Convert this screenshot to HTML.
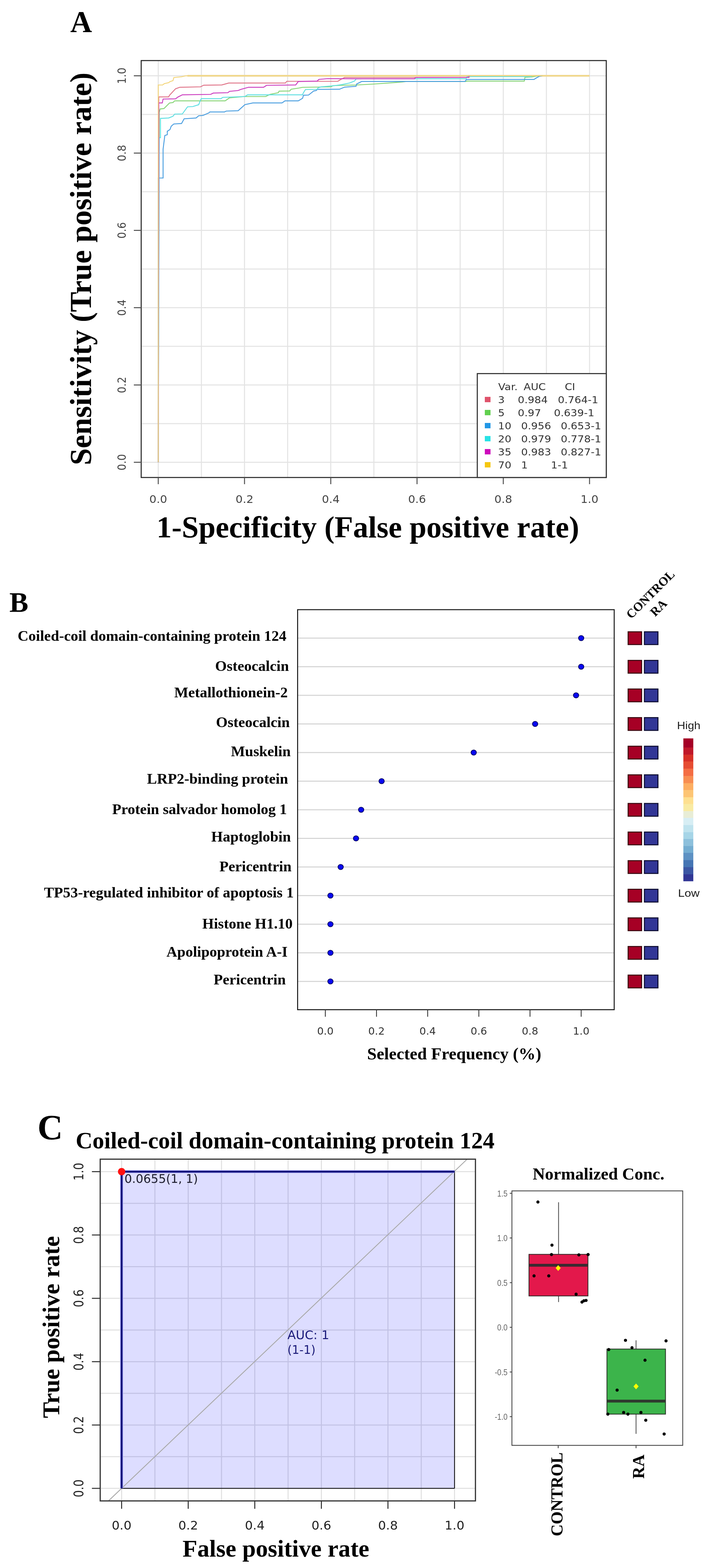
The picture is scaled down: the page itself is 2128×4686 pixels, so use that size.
<!DOCTYPE html>
<html><head><meta charset="utf-8"><title>Figure</title>
<style>html,body{margin:0;padding:0;background:#fff}svg{display:block}</style></head>
<body><svg width="2128" height="4686" viewBox="0 0 2128 4686">
<rect x="0" y="0" width="2128" height="4686" fill="#fff"/>
<text x="210" y="96" font-family="'Liberation Serif', 'Times New Roman', serif" font-size="90" font-weight="bold" fill="#000" text-anchor="start">A</text>
<line x1="473" y1="181" x2="473" y2="1427" stroke="#e3e3e3" stroke-width="3"/>
<line x1="422" y1="1381.5" x2="1812" y2="1381.5" stroke="#e3e3e3" stroke-width="3"/>
<line x1="601.9" y1="181" x2="601.9" y2="1427" stroke="#e3e3e3" stroke-width="3"/>
<line x1="422" y1="1266" x2="1812" y2="1266" stroke="#e3e3e3" stroke-width="3"/>
<line x1="730.8" y1="181" x2="730.8" y2="1427" stroke="#e3e3e3" stroke-width="3"/>
<line x1="422" y1="1150.5" x2="1812" y2="1150.5" stroke="#e3e3e3" stroke-width="3"/>
<line x1="859.7" y1="181" x2="859.7" y2="1427" stroke="#e3e3e3" stroke-width="3"/>
<line x1="422" y1="1035" x2="1812" y2="1035" stroke="#e3e3e3" stroke-width="3"/>
<line x1="988.6" y1="181" x2="988.6" y2="1427" stroke="#e3e3e3" stroke-width="3"/>
<line x1="422" y1="919.5" x2="1812" y2="919.5" stroke="#e3e3e3" stroke-width="3"/>
<line x1="1117.5" y1="181" x2="1117.5" y2="1427" stroke="#e3e3e3" stroke-width="3"/>
<line x1="422" y1="804" x2="1812" y2="804" stroke="#e3e3e3" stroke-width="3"/>
<line x1="1246.4" y1="181" x2="1246.4" y2="1427" stroke="#e3e3e3" stroke-width="3"/>
<line x1="422" y1="688.5" x2="1812" y2="688.5" stroke="#e3e3e3" stroke-width="3"/>
<line x1="1375.3" y1="181" x2="1375.3" y2="1427" stroke="#e3e3e3" stroke-width="3"/>
<line x1="422" y1="573" x2="1812" y2="573" stroke="#e3e3e3" stroke-width="3"/>
<line x1="1504.2" y1="181" x2="1504.2" y2="1427" stroke="#e3e3e3" stroke-width="3"/>
<line x1="422" y1="457.5" x2="1812" y2="457.5" stroke="#e3e3e3" stroke-width="3"/>
<line x1="1633.1" y1="181" x2="1633.1" y2="1427" stroke="#e3e3e3" stroke-width="3"/>
<line x1="422" y1="342" x2="1812" y2="342" stroke="#e3e3e3" stroke-width="3"/>
<line x1="1762" y1="181" x2="1762" y2="1427" stroke="#e3e3e3" stroke-width="3"/>
<line x1="422" y1="226.5" x2="1812" y2="226.5" stroke="#e3e3e3" stroke-width="3"/>
<line x1="560" y1="226.5" x2="1762" y2="226.5" stroke="#ecdcab" stroke-width="5.5"/>
<polyline points="473,1381.5 474.6,289.7 504,289.7 506.7,284.6 524.6,265.4 537.4,260.8 599,259.5 609,254.6 663,253.8 683.6,248.2 853,248.2 857,243 1009.5,243 1021,236 1030,231.5 1402,231.5 1404,226.5 1400,226.5" fill="none" stroke="#e07488" stroke-width="2.7" stroke-linejoin="miter"/>
<polyline points="473,1381.5 476,336 478.5,325.6 490,324.4 506.7,307.7 517,306.4 522,301.3 673,301.3 686,292.3 730,288.5 794,288.5 807,282 832,277 834,272.3 866,271.8 870,266.7 894,263 904,261 990,259.5 995,256 1020,255 1066,254 1120,251 1185,246.4 1203,245 1215,243.4 1393,243.4 1396,242.4 1567,242.4 1569,231 1590,230 1600,228 1610,226.5" fill="none" stroke="#86d477" stroke-width="2.7" stroke-linejoin="miter"/>
<polyline points="473,1381.5 473,532 487.4,532 487.4,446 492.6,405 500,402.6 500,392.3 508,387.2 511.8,377 519.5,370.5 542.6,369.2 550.3,355 586,352.6 593.8,346 606.7,344.9 624.6,337.2 627,334.6 670.8,334.6 676,332 711.8,330.8 732,312.8 755.6,307.7 842.8,307.7 851.8,301.3 891.5,301.3 904.4,293.6 907,284.6 922.3,284 937.7,271.8 945.4,270.5 948,267.2 1014.6,266.7 1030,260.3 1064,258 1066,251 1078,245 1081,243.4 1390,243.4 1394,237.4 1596,237.4 1602,233.5 1611,228.5 1621.6,226.5" fill="none" stroke="#4a9ee0" stroke-width="2.7" stroke-linejoin="miter"/>
<polyline points="473,1381.5 476,411.5 479.7,411.5 479.7,353.8 504,352.6 517,347.4 522,341 545,340.5 560.5,319.2 576,318.5 594,312.8 597.7,302.6 601.5,294.9 660.5,294.9 665.6,291 732,288.5 740,283.3 904,283.3 907,277 913,267.5 948,267 950,263 960,259.5 1000,256 1020,253 1045,248 1060,242 1064,236 1075,235.3 1393,235.3 1396,229 1587,229 1590,226.5" fill="none" stroke="#5fdfe2" stroke-width="2.7" stroke-linejoin="miter"/>
<polyline points="473,1381.5 474.6,307.7 485,307.7 487.4,296 524.6,295.4 532.3,289.7 545,283.3 629.7,282 637.4,278.2 681,277 686,273 711.8,270.5 719.5,267.2 742.8,260.8 787.7,260.8 796.7,255 883.8,253.8 891.5,243.6 948,242.3 953,237.2 968.5,236 978.7,235 1066,235.3 1239,235.3 1242,231.5 1400,231 1402,227" fill="none" stroke="#cc3fc0" stroke-width="2.7" stroke-linejoin="miter"/>
<polyline points="473,1381.5 473,254 486,254 491,250 504,247 508,244 517,241 519.5,232 527,231 542.5,229.5 553,227 558,226.5 1762,226.5" fill="none" stroke="#f3d57a" stroke-width="2.7" stroke-linejoin="miter"/>
<rect x="422" y="181" width="1390" height="1246" fill="none" stroke="#222" stroke-width="3"/>
<line x1="400" y1="1381.5" x2="422" y2="1381.5" stroke="#555" stroke-width="3"/>
<line x1="473" y1="1427" x2="473" y2="1447" stroke="#555" stroke-width="3"/>
<text x="0" y="0" font-family="'DejaVu Sans', 'Liberation Sans', sans-serif" font-size="32" font-weight="normal" fill="#444" text-anchor="middle" transform="translate(473 1503) scale(1.05 1)">0.0</text>
<text x="0" y="0" font-family="'DejaVu Sans', 'Liberation Sans', sans-serif" font-size="32" font-weight="normal" fill="#444" text-anchor="middle" transform="translate(376 1381.5) rotate(-90) scale(0.96 1.08)">0.0</text>
<line x1="400" y1="1150.5" x2="422" y2="1150.5" stroke="#555" stroke-width="3"/>
<line x1="730.8" y1="1427" x2="730.8" y2="1447" stroke="#555" stroke-width="3"/>
<text x="0" y="0" font-family="'DejaVu Sans', 'Liberation Sans', sans-serif" font-size="32" font-weight="normal" fill="#444" text-anchor="middle" transform="translate(730.8 1503) scale(1.05 1)">0.2</text>
<text x="0" y="0" font-family="'DejaVu Sans', 'Liberation Sans', sans-serif" font-size="32" font-weight="normal" fill="#444" text-anchor="middle" transform="translate(376 1150.5) rotate(-90) scale(0.96 1.08)">0.2</text>
<line x1="400" y1="919.5" x2="422" y2="919.5" stroke="#555" stroke-width="3"/>
<line x1="988.6" y1="1427" x2="988.6" y2="1447" stroke="#555" stroke-width="3"/>
<text x="0" y="0" font-family="'DejaVu Sans', 'Liberation Sans', sans-serif" font-size="32" font-weight="normal" fill="#444" text-anchor="middle" transform="translate(988.6 1503) scale(1.05 1)">0.4</text>
<text x="0" y="0" font-family="'DejaVu Sans', 'Liberation Sans', sans-serif" font-size="32" font-weight="normal" fill="#444" text-anchor="middle" transform="translate(376 919.5) rotate(-90) scale(0.96 1.08)">0.4</text>
<line x1="400" y1="688.5" x2="422" y2="688.5" stroke="#555" stroke-width="3"/>
<line x1="1246.4" y1="1427" x2="1246.4" y2="1447" stroke="#555" stroke-width="3"/>
<text x="0" y="0" font-family="'DejaVu Sans', 'Liberation Sans', sans-serif" font-size="32" font-weight="normal" fill="#444" text-anchor="middle" transform="translate(1246.4 1503) scale(1.05 1)">0.6</text>
<text x="0" y="0" font-family="'DejaVu Sans', 'Liberation Sans', sans-serif" font-size="32" font-weight="normal" fill="#444" text-anchor="middle" transform="translate(376 688.5) rotate(-90) scale(0.96 1.08)">0.6</text>
<line x1="400" y1="457.5" x2="422" y2="457.5" stroke="#555" stroke-width="3"/>
<line x1="1504.2" y1="1427" x2="1504.2" y2="1447" stroke="#555" stroke-width="3"/>
<text x="0" y="0" font-family="'DejaVu Sans', 'Liberation Sans', sans-serif" font-size="32" font-weight="normal" fill="#444" text-anchor="middle" transform="translate(1504.2 1503) scale(1.05 1)">0.8</text>
<text x="0" y="0" font-family="'DejaVu Sans', 'Liberation Sans', sans-serif" font-size="32" font-weight="normal" fill="#444" text-anchor="middle" transform="translate(376 457.5) rotate(-90) scale(0.96 1.08)">0.8</text>
<line x1="400" y1="226.5" x2="422" y2="226.5" stroke="#555" stroke-width="3"/>
<line x1="1762" y1="1427" x2="1762" y2="1447" stroke="#555" stroke-width="3"/>
<text x="0" y="0" font-family="'DejaVu Sans', 'Liberation Sans', sans-serif" font-size="32" font-weight="normal" fill="#444" text-anchor="middle" transform="translate(1762 1503) scale(1.05 1)">1.0</text>
<text x="0" y="0" font-family="'DejaVu Sans', 'Liberation Sans', sans-serif" font-size="32" font-weight="normal" fill="#444" text-anchor="middle" transform="translate(376 226.5) rotate(-90) scale(0.96 1.08)">1.0</text>
<rect x="1426.5" y="1116.5" width="385.5" height="310.5" fill="#fff" stroke="#333" stroke-width="3.2"/>
<text x="0" y="0" font-family="'DejaVu Sans', 'Liberation Sans', sans-serif" font-size="29" font-weight="normal" fill="#333" text-anchor="start" transform="translate(1489 1166) scale(1.08 1)">Var.</text>
<text x="0" y="0" font-family="'DejaVu Sans', 'Liberation Sans', sans-serif" font-size="29" font-weight="normal" fill="#333" text-anchor="start" transform="translate(1565 1166) scale(1.08 1)">AUC</text>
<text x="0" y="0" font-family="'DejaVu Sans', 'Liberation Sans', sans-serif" font-size="29" font-weight="normal" fill="#333" text-anchor="start" transform="translate(1688 1166) scale(1.08 1)">CI</text>
<rect x="1449" y="1186" width="17" height="16" fill="#df536b" stroke="none" stroke-width="0"/>
<text x="0" y="0" font-family="'DejaVu Sans', 'Liberation Sans', sans-serif" font-size="29" font-weight="normal" fill="#333" text-anchor="start" transform="translate(1488.5 1205) scale(1.08 1)">3</text>
<text x="0" y="0" font-family="'DejaVu Sans', 'Liberation Sans', sans-serif" font-size="29" font-weight="normal" fill="#333" text-anchor="start" transform="translate(1547.5 1205) scale(1.08 1)">0.984</text>
<text x="0" y="0" font-family="'DejaVu Sans', 'Liberation Sans', sans-serif" font-size="29" font-weight="normal" fill="#333" text-anchor="start" transform="translate(1667.2 1205) scale(1.08 1)">0.764-1</text>
<rect x="1449" y="1225" width="17" height="16" fill="#61d04f" stroke="none" stroke-width="0"/>
<text x="0" y="0" font-family="'DejaVu Sans', 'Liberation Sans', sans-serif" font-size="29" font-weight="normal" fill="#333" text-anchor="start" transform="translate(1488.5 1244) scale(1.08 1)">5</text>
<text x="0" y="0" font-family="'DejaVu Sans', 'Liberation Sans', sans-serif" font-size="29" font-weight="normal" fill="#333" text-anchor="start" transform="translate(1547.5 1244) scale(1.08 1)">0.97</text>
<text x="0" y="0" font-family="'DejaVu Sans', 'Liberation Sans', sans-serif" font-size="29" font-weight="normal" fill="#333" text-anchor="start" transform="translate(1655.5 1244) scale(1.08 1)">0.639-1</text>
<rect x="1449" y="1264" width="17" height="16" fill="#2297e6" stroke="none" stroke-width="0"/>
<text x="0" y="0" font-family="'DejaVu Sans', 'Liberation Sans', sans-serif" font-size="29" font-weight="normal" fill="#333" text-anchor="start" transform="translate(1488.5 1283) scale(1.08 1)">10</text>
<text x="0" y="0" font-family="'DejaVu Sans', 'Liberation Sans', sans-serif" font-size="29" font-weight="normal" fill="#333" text-anchor="start" transform="translate(1557.5 1283) scale(1.08 1)">0.956</text>
<text x="0" y="0" font-family="'DejaVu Sans', 'Liberation Sans', sans-serif" font-size="29" font-weight="normal" fill="#333" text-anchor="start" transform="translate(1676 1283) scale(1.08 1)">0.653-1</text>
<rect x="1449" y="1303" width="17" height="16" fill="#28e2e5" stroke="none" stroke-width="0"/>
<text x="0" y="0" font-family="'DejaVu Sans', 'Liberation Sans', sans-serif" font-size="29" font-weight="normal" fill="#333" text-anchor="start" transform="translate(1488.5 1322) scale(1.08 1)">20</text>
<text x="0" y="0" font-family="'DejaVu Sans', 'Liberation Sans', sans-serif" font-size="29" font-weight="normal" fill="#333" text-anchor="start" transform="translate(1557.5 1322) scale(1.08 1)">0.979</text>
<text x="0" y="0" font-family="'DejaVu Sans', 'Liberation Sans', sans-serif" font-size="29" font-weight="normal" fill="#333" text-anchor="start" transform="translate(1676 1322) scale(1.08 1)">0.778-1</text>
<rect x="1449" y="1342" width="17" height="16" fill="#cd0bbc" stroke="none" stroke-width="0"/>
<text x="0" y="0" font-family="'DejaVu Sans', 'Liberation Sans', sans-serif" font-size="29" font-weight="normal" fill="#333" text-anchor="start" transform="translate(1488.5 1361) scale(1.08 1)">35</text>
<text x="0" y="0" font-family="'DejaVu Sans', 'Liberation Sans', sans-serif" font-size="29" font-weight="normal" fill="#333" text-anchor="start" transform="translate(1557.5 1361) scale(1.08 1)">0.983</text>
<text x="0" y="0" font-family="'DejaVu Sans', 'Liberation Sans', sans-serif" font-size="29" font-weight="normal" fill="#333" text-anchor="start" transform="translate(1676 1361) scale(1.08 1)">0.827-1</text>
<rect x="1449" y="1381" width="17" height="16" fill="#f5c710" stroke="none" stroke-width="0"/>
<text x="0" y="0" font-family="'DejaVu Sans', 'Liberation Sans', sans-serif" font-size="29" font-weight="normal" fill="#333" text-anchor="start" transform="translate(1488.5 1400) scale(1.08 1)">70</text>
<text x="0" y="0" font-family="'DejaVu Sans', 'Liberation Sans', sans-serif" font-size="29" font-weight="normal" fill="#333" text-anchor="start" transform="translate(1557.5 1400) scale(1.08 1)">1</text>
<text x="0" y="0" font-family="'DejaVu Sans', 'Liberation Sans', sans-serif" font-size="29" font-weight="normal" fill="#333" text-anchor="start" transform="translate(1646.5 1400) scale(1.08 1)">1-1</text>
<text x="1099.3" y="1605.5" font-family="'Liberation Serif', 'Times New Roman', serif" font-size="90.8" font-weight="bold" fill="#000" text-anchor="middle">1-Specificity (False positive rate)</text>
<text x="272.3" y="803.5" font-family="'Liberation Serif', 'Times New Roman', serif" font-size="91" font-weight="bold" fill="#000" text-anchor="middle" transform="rotate(-90 272.3 803.5)">Sensitivity (True positive rate)</text>
<text x="28" y="1829" font-family="'Liberation Serif', 'Times New Roman', serif" font-size="85" font-weight="bold" fill="#000" text-anchor="start">B</text>
<line x1="889" y1="1907" x2="1835.2" y2="1907" stroke="#d3d3d3" stroke-width="3.2"/>
<line x1="889" y1="1992.5" x2="1835.2" y2="1992.5" stroke="#d3d3d3" stroke-width="3.2"/>
<line x1="889" y1="2078" x2="1835.2" y2="2078" stroke="#d3d3d3" stroke-width="3.2"/>
<line x1="889" y1="2163.5" x2="1835.2" y2="2163.5" stroke="#d3d3d3" stroke-width="3.2"/>
<line x1="889" y1="2249" x2="1835.2" y2="2249" stroke="#d3d3d3" stroke-width="3.2"/>
<line x1="889" y1="2334.5" x2="1835.2" y2="2334.5" stroke="#d3d3d3" stroke-width="3.2"/>
<line x1="889" y1="2420" x2="1835.2" y2="2420" stroke="#d3d3d3" stroke-width="3.2"/>
<line x1="889" y1="2505.5" x2="1835.2" y2="2505.5" stroke="#d3d3d3" stroke-width="3.2"/>
<line x1="889" y1="2591" x2="1835.2" y2="2591" stroke="#d3d3d3" stroke-width="3.2"/>
<line x1="889" y1="2676.5" x2="1835.2" y2="2676.5" stroke="#d3d3d3" stroke-width="3.2"/>
<line x1="889" y1="2762" x2="1835.2" y2="2762" stroke="#d3d3d3" stroke-width="3.2"/>
<line x1="889" y1="2847.5" x2="1835.2" y2="2847.5" stroke="#d3d3d3" stroke-width="3.2"/>
<line x1="889" y1="2933" x2="1835.2" y2="2933" stroke="#d3d3d3" stroke-width="3.2"/>
<ellipse cx="1737" cy="1907" rx="8" ry="7.8" fill="#0808f0" stroke="#000060" stroke-width="2"/>
<text x="856" y="1915" font-family="'Liberation Serif', 'Times New Roman', serif" font-size="44.6" font-weight="bold" fill="#000" text-anchor="end">Coiled-coil domain-containing protein 124</text>
<rect x="1877.3" y="1888.1" width="40.3" height="38.2" fill="#a60025" stroke="#3a0810" stroke-width="3"/>
<rect x="1926" y="1888.1" width="40.5" height="38.2" fill="#323696" stroke="#0c0c30" stroke-width="3"/>
<ellipse cx="1737" cy="1992.5" rx="8" ry="7.8" fill="#0808f0" stroke="#000060" stroke-width="2"/>
<text x="863.5" y="2004.6" font-family="'Liberation Serif', 'Times New Roman', serif" font-size="44.6" font-weight="bold" fill="#000" text-anchor="end">Osteocalcin</text>
<rect x="1877.3" y="1973.6" width="40.3" height="38.2" fill="#a60025" stroke="#3a0810" stroke-width="3"/>
<rect x="1926" y="1973.6" width="40.5" height="38.2" fill="#323696" stroke="#0c0c30" stroke-width="3"/>
<ellipse cx="1721.71" cy="2078" rx="8" ry="7.8" fill="#0808f0" stroke="#000060" stroke-width="2"/>
<text x="860" y="2084" font-family="'Liberation Serif', 'Times New Roman', serif" font-size="44.6" font-weight="bold" fill="#000" text-anchor="end">Metallothionein-2</text>
<rect x="1877.3" y="2059.1" width="40.3" height="38.2" fill="#a60025" stroke="#3a0810" stroke-width="3"/>
<rect x="1926" y="2059.1" width="40.5" height="38.2" fill="#323696" stroke="#0c0c30" stroke-width="3"/>
<ellipse cx="1599.35" cy="2163.5" rx="8" ry="7.8" fill="#0808f0" stroke="#000060" stroke-width="2"/>
<text x="866" y="2173" font-family="'Liberation Serif', 'Times New Roman', serif" font-size="44.6" font-weight="bold" fill="#000" text-anchor="end">Osteocalcin</text>
<rect x="1877.3" y="2144.6" width="40.3" height="38.2" fill="#a60025" stroke="#3a0810" stroke-width="3"/>
<rect x="1926" y="2144.6" width="40.5" height="38.2" fill="#323696" stroke="#0c0c30" stroke-width="3"/>
<ellipse cx="1415.83" cy="2249" rx="8" ry="7.8" fill="#0808f0" stroke="#000060" stroke-width="2"/>
<text x="868.7" y="2259.5" font-family="'Liberation Serif', 'Times New Roman', serif" font-size="44.6" font-weight="bold" fill="#000" text-anchor="end">Muskelin</text>
<rect x="1877.3" y="2230.1" width="40.3" height="38.2" fill="#a60025" stroke="#3a0810" stroke-width="3"/>
<rect x="1926" y="2230.1" width="40.5" height="38.2" fill="#323696" stroke="#0c0c30" stroke-width="3"/>
<ellipse cx="1140.53" cy="2334.5" rx="8" ry="7.8" fill="#0808f0" stroke="#000060" stroke-width="2"/>
<text x="861" y="2341.5" font-family="'Liberation Serif', 'Times New Roman', serif" font-size="44.6" font-weight="bold" fill="#000" text-anchor="end">LRP2-binding protein</text>
<rect x="1877.3" y="2315.6" width="40.3" height="38.2" fill="#a60025" stroke="#3a0810" stroke-width="3"/>
<rect x="1926" y="2315.6" width="40.5" height="38.2" fill="#323696" stroke="#0c0c30" stroke-width="3"/>
<ellipse cx="1079.36" cy="2420" rx="8" ry="7.8" fill="#0808f0" stroke="#000060" stroke-width="2"/>
<text x="857.6" y="2433.3" font-family="'Liberation Serif', 'Times New Roman', serif" font-size="44.6" font-weight="bold" fill="#000" text-anchor="end">Protein salvador homolog 1</text>
<rect x="1877.3" y="2401.1" width="40.3" height="38.2" fill="#a60025" stroke="#3a0810" stroke-width="3"/>
<rect x="1926" y="2401.1" width="40.5" height="38.2" fill="#323696" stroke="#0c0c30" stroke-width="3"/>
<ellipse cx="1064.06" cy="2505.5" rx="8" ry="7.8" fill="#0808f0" stroke="#000060" stroke-width="2"/>
<text x="869.2" y="2514.7" font-family="'Liberation Serif', 'Times New Roman', serif" font-size="44.6" font-weight="bold" fill="#000" text-anchor="end">Haptoglobin</text>
<rect x="1877.3" y="2486.6" width="40.3" height="38.2" fill="#a60025" stroke="#3a0810" stroke-width="3"/>
<rect x="1926" y="2486.6" width="40.5" height="38.2" fill="#323696" stroke="#0c0c30" stroke-width="3"/>
<ellipse cx="1018.18" cy="2591" rx="8" ry="7.8" fill="#0808f0" stroke="#000060" stroke-width="2"/>
<text x="871.2" y="2604.3" font-family="'Liberation Serif', 'Times New Roman', serif" font-size="44.6" font-weight="bold" fill="#000" text-anchor="end">Pericentrin</text>
<rect x="1877.3" y="2572.1" width="40.3" height="38.2" fill="#a60025" stroke="#3a0810" stroke-width="3"/>
<rect x="1926" y="2572.1" width="40.5" height="38.2" fill="#323696" stroke="#0c0c30" stroke-width="3"/>
<ellipse cx="987.59" cy="2676.5" rx="8" ry="7.8" fill="#0808f0" stroke="#000060" stroke-width="2"/>
<text x="878" y="2682.2" font-family="'Liberation Serif', 'Times New Roman', serif" font-size="44.6" font-weight="bold" fill="#000" text-anchor="end">TP53-regulated inhibitor of apoptosis 1</text>
<rect x="1877.3" y="2657.6" width="40.3" height="38.2" fill="#a60025" stroke="#3a0810" stroke-width="3"/>
<rect x="1926" y="2657.6" width="40.5" height="38.2" fill="#323696" stroke="#0c0c30" stroke-width="3"/>
<ellipse cx="987.59" cy="2762" rx="8" ry="7.8" fill="#0808f0" stroke="#000060" stroke-width="2"/>
<text x="874.6" y="2775.2" font-family="'Liberation Serif', 'Times New Roman', serif" font-size="44.6" font-weight="bold" fill="#000" text-anchor="end">Histone H1.10</text>
<rect x="1877.3" y="2743.1" width="40.3" height="38.2" fill="#a60025" stroke="#3a0810" stroke-width="3"/>
<rect x="1926" y="2743.1" width="40.5" height="38.2" fill="#323696" stroke="#0c0c30" stroke-width="3"/>
<ellipse cx="987.59" cy="2847.5" rx="8" ry="7.8" fill="#0808f0" stroke="#000060" stroke-width="2"/>
<text x="859.6" y="2858.6" font-family="'Liberation Serif', 'Times New Roman', serif" font-size="44.6" font-weight="bold" fill="#000" text-anchor="end">Apolipoprotein A-I</text>
<rect x="1877.3" y="2828.6" width="40.3" height="38.2" fill="#a60025" stroke="#3a0810" stroke-width="3"/>
<rect x="1926" y="2828.6" width="40.5" height="38.2" fill="#323696" stroke="#0c0c30" stroke-width="3"/>
<ellipse cx="987.59" cy="2933" rx="8" ry="7.8" fill="#0808f0" stroke="#000060" stroke-width="2"/>
<text x="854" y="2942" font-family="'Liberation Serif', 'Times New Roman', serif" font-size="44.6" font-weight="bold" fill="#000" text-anchor="end">Pericentrin</text>
<rect x="1877.3" y="2914.1" width="40.3" height="38.2" fill="#a60025" stroke="#3a0810" stroke-width="3"/>
<rect x="1926" y="2914.1" width="40.5" height="38.2" fill="#323696" stroke="#0c0c30" stroke-width="3"/>
<rect x="889.5" y="1822" width="946.2" height="1195.5" fill="none" stroke="#1e1e1e" stroke-width="3"/>
<line x1="972.3" y1="3017.5" x2="972.3" y2="3038.5" stroke="#333" stroke-width="2.5"/>
<text x="972.3" y="3091.5" font-family="'DejaVu Sans', 'Liberation Sans', sans-serif" font-size="31" font-weight="normal" fill="#333" text-anchor="middle">0.0</text>
<line x1="1125.24" y1="3017.5" x2="1125.24" y2="3038.5" stroke="#333" stroke-width="2.5"/>
<text x="1125.24" y="3091.5" font-family="'DejaVu Sans', 'Liberation Sans', sans-serif" font-size="31" font-weight="normal" fill="#333" text-anchor="middle">0.2</text>
<line x1="1278.18" y1="3017.5" x2="1278.18" y2="3038.5" stroke="#333" stroke-width="2.5"/>
<text x="1278.18" y="3091.5" font-family="'DejaVu Sans', 'Liberation Sans', sans-serif" font-size="31" font-weight="normal" fill="#333" text-anchor="middle">0.4</text>
<line x1="1431.12" y1="3017.5" x2="1431.12" y2="3038.5" stroke="#333" stroke-width="2.5"/>
<text x="1431.12" y="3091.5" font-family="'DejaVu Sans', 'Liberation Sans', sans-serif" font-size="31" font-weight="normal" fill="#333" text-anchor="middle">0.6</text>
<line x1="1584.06" y1="3017.5" x2="1584.06" y2="3038.5" stroke="#333" stroke-width="2.5"/>
<text x="1584.06" y="3091.5" font-family="'DejaVu Sans', 'Liberation Sans', sans-serif" font-size="31" font-weight="normal" fill="#333" text-anchor="middle">0.8</text>
<line x1="1737" y1="3017.5" x2="1737" y2="3038.5" stroke="#333" stroke-width="2.5"/>
<text x="1737" y="3091.5" font-family="'DejaVu Sans', 'Liberation Sans', sans-serif" font-size="31" font-weight="normal" fill="#333" text-anchor="middle">1.0</text>
<text x="1357.5" y="3165.5" font-family="'Liberation Serif', 'Times New Roman', serif" font-size="51" font-weight="bold" fill="#000" text-anchor="middle">Selected Frequency (%)</text>
<text x="1886.5" y="1851" font-family="'Liberation Serif', 'Times New Roman', serif" font-size="37" font-weight="bold" fill="#000" text-anchor="start" transform="rotate(-45 1886.5 1851)">CONTROL</text>
<text x="1958" y="1844" font-family="'Liberation Serif', 'Times New Roman', serif" font-size="37" font-weight="bold" fill="#000" text-anchor="start" transform="rotate(-45 1958 1844)">RA</text>
<rect x="2042.4" y="2206.72" width="29.7" height="27.82" fill="#a50026" stroke="none" stroke-width="0"/>
<rect x="2042.4" y="2234.04" width="29.7" height="21.88" fill="#c0182a" stroke="none" stroke-width="0"/>
<rect x="2042.4" y="2255.42" width="29.7" height="20.69" fill="#d73027" stroke="none" stroke-width="0"/>
<rect x="2042.4" y="2275.62" width="29.7" height="21.88" fill="#e64c32" stroke="none" stroke-width="0"/>
<rect x="2042.4" y="2297" width="29.7" height="22.6" fill="#f46d43" stroke="none" stroke-width="0"/>
<rect x="2042.4" y="2319.1" width="29.7" height="21.88" fill="#f88d51" stroke="none" stroke-width="0"/>
<rect x="2042.4" y="2340.48" width="29.7" height="21.17" fill="#fdae61" stroke="none" stroke-width="0"/>
<rect x="2042.4" y="2361.15" width="29.7" height="21.88" fill="#fdc574" stroke="none" stroke-width="0"/>
<rect x="2042.4" y="2382.53" width="29.7" height="20.69" fill="#fee090" stroke="none" stroke-width="0"/>
<rect x="2042.4" y="2402.73" width="29.7" height="21.88" fill="#f9eba3" stroke="none" stroke-width="0"/>
<rect x="2042.4" y="2424.11" width="29.7" height="20.69" fill="#e8edd6" stroke="none" stroke-width="0"/>
<rect x="2042.4" y="2444.31" width="29.7" height="21.88" fill="#d7eef4" stroke="none" stroke-width="0"/>
<rect x="2042.4" y="2465.69" width="29.7" height="21.88" fill="#bfe3ee" stroke="none" stroke-width="0"/>
<rect x="2042.4" y="2487.07" width="29.7" height="20.69" fill="#a6d5e7" stroke="none" stroke-width="0"/>
<rect x="2042.4" y="2507.27" width="29.7" height="21.41" fill="#8dc0dc" stroke="none" stroke-width="0"/>
<rect x="2042.4" y="2528.17" width="29.7" height="21.17" fill="#74add1" stroke="none" stroke-width="0"/>
<rect x="2042.4" y="2548.84" width="29.7" height="21.88" fill="#5d91c3" stroke="none" stroke-width="0"/>
<rect x="2042.4" y="2570.23" width="29.7" height="21.88" fill="#4575b4" stroke="none" stroke-width="0"/>
<rect x="2042.4" y="2591.61" width="29.7" height="21.88" fill="#3b56a4" stroke="none" stroke-width="0"/>
<rect x="2042.4" y="2612.99" width="29.7" height="20.69" fill="#313695" stroke="none" stroke-width="0"/>
<text x="2023.5" y="2178.8" font-family="'Liberation Sans', sans-serif" font-size="31" font-weight="normal" fill="#1a1a1a" text-anchor="start" textLength="70" lengthAdjust="spacingAndGlyphs">High</text>
<text x="2026.5" y="2680.3" font-family="'Liberation Sans', sans-serif" font-size="31" font-weight="normal" fill="#1a1a1a" text-anchor="start" textLength="64.5" lengthAdjust="spacingAndGlyphs">Low</text>
<text x="112" y="3404.5" font-family="'Liberation Serif', 'Times New Roman', serif" font-size="105" font-weight="bold" fill="#000" text-anchor="start">C</text>
<text x="226.3" y="3432" font-family="'Liberation Serif', 'Times New Roman', serif" font-size="69.5" font-weight="bold" fill="#000" text-anchor="start">Coiled-coil domain-containing protein 124</text>
<line x1="363.5" y1="3464.2" x2="363.5" y2="4485.5" stroke="#e0e0e0" stroke-width="3"/>
<line x1="299.5" y1="4448" x2="1421" y2="4448" stroke="#e0e0e0" stroke-width="3"/>
<line x1="463" y1="3464.2" x2="463" y2="4485.5" stroke="#e0e0e0" stroke-width="3"/>
<line x1="299.5" y1="4353.35" x2="1421" y2="4353.35" stroke="#e0e0e0" stroke-width="3"/>
<line x1="562.5" y1="3464.2" x2="562.5" y2="4485.5" stroke="#e0e0e0" stroke-width="3"/>
<line x1="299.5" y1="4258.7" x2="1421" y2="4258.7" stroke="#e0e0e0" stroke-width="3"/>
<line x1="662" y1="3464.2" x2="662" y2="4485.5" stroke="#e0e0e0" stroke-width="3"/>
<line x1="299.5" y1="4164.05" x2="1421" y2="4164.05" stroke="#e0e0e0" stroke-width="3"/>
<line x1="761.5" y1="3464.2" x2="761.5" y2="4485.5" stroke="#e0e0e0" stroke-width="3"/>
<line x1="299.5" y1="4069.4" x2="1421" y2="4069.4" stroke="#e0e0e0" stroke-width="3"/>
<line x1="861" y1="3464.2" x2="861" y2="4485.5" stroke="#e0e0e0" stroke-width="3"/>
<line x1="299.5" y1="3974.75" x2="1421" y2="3974.75" stroke="#e0e0e0" stroke-width="3"/>
<line x1="960.5" y1="3464.2" x2="960.5" y2="4485.5" stroke="#e0e0e0" stroke-width="3"/>
<line x1="299.5" y1="3880.1" x2="1421" y2="3880.1" stroke="#e0e0e0" stroke-width="3"/>
<line x1="1060" y1="3464.2" x2="1060" y2="4485.5" stroke="#e0e0e0" stroke-width="3"/>
<line x1="299.5" y1="3785.45" x2="1421" y2="3785.45" stroke="#e0e0e0" stroke-width="3"/>
<line x1="1159.5" y1="3464.2" x2="1159.5" y2="4485.5" stroke="#e0e0e0" stroke-width="3"/>
<line x1="299.5" y1="3690.8" x2="1421" y2="3690.8" stroke="#e0e0e0" stroke-width="3"/>
<line x1="1259" y1="3464.2" x2="1259" y2="4485.5" stroke="#e0e0e0" stroke-width="3"/>
<line x1="299.5" y1="3596.15" x2="1421" y2="3596.15" stroke="#e0e0e0" stroke-width="3"/>
<line x1="1358.5" y1="3464.2" x2="1358.5" y2="4485.5" stroke="#e0e0e0" stroke-width="3"/>
<line x1="299.5" y1="3501.5" x2="1421" y2="3501.5" stroke="#e0e0e0" stroke-width="3"/>
<rect x="363.5" y="3501.5" width="995" height="946.5" fill="rgba(0,0,255,0.135)" stroke="none" stroke-width="0"/>
<line x1="324.1" y1="4485.5" x2="1396.31" y2="3464.2" stroke="#a8a8a8" stroke-width="2.5"/>
<line x1="1358.5" y1="3501.5" x2="1358.5" y2="4448" stroke="#111" stroke-width="2.5"/>
<line x1="363.5" y1="4448" x2="1358.5" y2="4448" stroke="#111" stroke-width="2.5"/>
<polyline points="363.5,4448 363.5,3501.5 1358.5,3501.5" fill="none" stroke="#9c9cec" stroke-width="9" stroke-linejoin="miter"/>
<polyline points="363.5,4448 363.5,3501.5 1358.5,3501.5" fill="none" stroke="#0a0a78" stroke-width="5" stroke-linejoin="miter"/>
<circle cx="363.5" cy="3501.5" r="11" fill="#ff1010"/>
<text x="372" y="3535" font-family="'DejaVu Sans', 'Liberation Sans', sans-serif" font-size="35.5" font-weight="normal" fill="#202030" text-anchor="start">0.0655(1, 1)</text>
<text x="859" y="4001.5" font-family="'DejaVu Sans', 'Liberation Sans', sans-serif" font-size="36" font-weight="normal" fill="#1c1c7a" text-anchor="start" textLength="125" lengthAdjust="spacingAndGlyphs">AUC: 1</text>
<text x="859" y="4046" font-family="'DejaVu Sans', 'Liberation Sans', sans-serif" font-size="36" font-weight="normal" fill="#1c1c7a" text-anchor="start" textLength="84" lengthAdjust="spacingAndGlyphs">(1-1)</text>
<rect x="299.5" y="3464.2" width="1121.5" height="1021.3" fill="none" stroke="#333" stroke-width="3.5"/>
<line x1="274.7" y1="4448" x2="299.5" y2="4448" stroke="#333" stroke-width="3"/>
<line x1="363.5" y1="4485.5" x2="363.5" y2="4509" stroke="#333" stroke-width="3"/>
<text x="0" y="0" font-family="'DejaVu Sans', 'Liberation Sans', sans-serif" font-size="35" font-weight="normal" fill="#222" text-anchor="middle" transform="translate(363.5 4571) scale(1.06 1)">0.0</text>
<text x="0" y="0" font-family="'DejaVu Sans', 'Liberation Sans', sans-serif" font-size="35" font-weight="normal" fill="#222" text-anchor="middle" transform="translate(249 4448) rotate(-90) scale(0.96 1.12)">0.0</text>
<line x1="274.7" y1="4258.7" x2="299.5" y2="4258.7" stroke="#333" stroke-width="3"/>
<line x1="562.5" y1="4485.5" x2="562.5" y2="4509" stroke="#333" stroke-width="3"/>
<text x="0" y="0" font-family="'DejaVu Sans', 'Liberation Sans', sans-serif" font-size="35" font-weight="normal" fill="#222" text-anchor="middle" transform="translate(562.5 4571) scale(1.06 1)">0.2</text>
<text x="0" y="0" font-family="'DejaVu Sans', 'Liberation Sans', sans-serif" font-size="35" font-weight="normal" fill="#222" text-anchor="middle" transform="translate(249 4258.7) rotate(-90) scale(0.96 1.12)">0.2</text>
<line x1="274.7" y1="4069.4" x2="299.5" y2="4069.4" stroke="#333" stroke-width="3"/>
<line x1="761.5" y1="4485.5" x2="761.5" y2="4509" stroke="#333" stroke-width="3"/>
<text x="0" y="0" font-family="'DejaVu Sans', 'Liberation Sans', sans-serif" font-size="35" font-weight="normal" fill="#222" text-anchor="middle" transform="translate(761.5 4571) scale(1.06 1)">0.4</text>
<text x="0" y="0" font-family="'DejaVu Sans', 'Liberation Sans', sans-serif" font-size="35" font-weight="normal" fill="#222" text-anchor="middle" transform="translate(249 4069.4) rotate(-90) scale(0.96 1.12)">0.4</text>
<line x1="274.7" y1="3880.1" x2="299.5" y2="3880.1" stroke="#333" stroke-width="3"/>
<line x1="960.5" y1="4485.5" x2="960.5" y2="4509" stroke="#333" stroke-width="3"/>
<text x="0" y="0" font-family="'DejaVu Sans', 'Liberation Sans', sans-serif" font-size="35" font-weight="normal" fill="#222" text-anchor="middle" transform="translate(960.5 4571) scale(1.06 1)">0.6</text>
<text x="0" y="0" font-family="'DejaVu Sans', 'Liberation Sans', sans-serif" font-size="35" font-weight="normal" fill="#222" text-anchor="middle" transform="translate(249 3880.1) rotate(-90) scale(0.96 1.12)">0.6</text>
<line x1="274.7" y1="3690.8" x2="299.5" y2="3690.8" stroke="#333" stroke-width="3"/>
<line x1="1159.5" y1="4485.5" x2="1159.5" y2="4509" stroke="#333" stroke-width="3"/>
<text x="0" y="0" font-family="'DejaVu Sans', 'Liberation Sans', sans-serif" font-size="35" font-weight="normal" fill="#222" text-anchor="middle" transform="translate(1159.5 4571) scale(1.06 1)">0.8</text>
<text x="0" y="0" font-family="'DejaVu Sans', 'Liberation Sans', sans-serif" font-size="35" font-weight="normal" fill="#222" text-anchor="middle" transform="translate(249 3690.8) rotate(-90) scale(0.96 1.12)">0.8</text>
<line x1="274.7" y1="3501.5" x2="299.5" y2="3501.5" stroke="#333" stroke-width="3"/>
<line x1="1358.5" y1="4485.5" x2="1358.5" y2="4509" stroke="#333" stroke-width="3"/>
<text x="0" y="0" font-family="'DejaVu Sans', 'Liberation Sans', sans-serif" font-size="35" font-weight="normal" fill="#222" text-anchor="middle" transform="translate(1358.5 4571) scale(1.06 1)">1.0</text>
<text x="0" y="0" font-family="'DejaVu Sans', 'Liberation Sans', sans-serif" font-size="35" font-weight="normal" fill="#222" text-anchor="middle" transform="translate(249 3501.5) rotate(-90) scale(0.96 1.12)">1.0</text>
<text x="177.2" y="3966" font-family="'Liberation Serif', 'Times New Roman', serif" font-size="72.2" font-weight="bold" fill="#000" text-anchor="middle" transform="rotate(-90 177.2 3966)">True positive rate</text>
<text x="824.6" y="4652" font-family="'Liberation Serif', 'Times New Roman', serif" font-size="72.3" font-weight="bold" fill="#000" text-anchor="middle">False positive rate</text>
<text x="1788.8" y="3525" font-family="'Liberation Serif', 'Times New Roman', serif" font-size="51" font-weight="bold" fill="#000" text-anchor="middle">Normalized Conc.</text>
<rect x="1530" y="3559" width="510.5" height="760.5" fill="#fff" stroke="#444" stroke-width="2.5"/>
<line x1="1523.6" y1="3566.2" x2="1530" y2="3566.2" stroke="#444" stroke-width="2.5"/>
<text x="0" y="0" font-family="'Liberation Sans', sans-serif" font-size="26.5" font-weight="normal" fill="#666" text-anchor="end" transform="translate(1517 3575.5) scale(0.84 1)">1.5</text>
<line x1="1523.6" y1="3699.7" x2="1530" y2="3699.7" stroke="#444" stroke-width="2.5"/>
<text x="0" y="0" font-family="'Liberation Sans', sans-serif" font-size="26.5" font-weight="normal" fill="#666" text-anchor="end" transform="translate(1517 3709) scale(0.84 1)">1.0</text>
<line x1="1523.6" y1="3833.2" x2="1530" y2="3833.2" stroke="#444" stroke-width="2.5"/>
<text x="0" y="0" font-family="'Liberation Sans', sans-serif" font-size="26.5" font-weight="normal" fill="#666" text-anchor="end" transform="translate(1517 3842.5) scale(0.84 1)">0.5</text>
<line x1="1523.6" y1="3966.7" x2="1530" y2="3966.7" stroke="#444" stroke-width="2.5"/>
<text x="0" y="0" font-family="'Liberation Sans', sans-serif" font-size="26.5" font-weight="normal" fill="#666" text-anchor="end" transform="translate(1517 3976) scale(0.84 1)">0.0</text>
<line x1="1523.6" y1="4100.2" x2="1530" y2="4100.2" stroke="#444" stroke-width="2.5"/>
<text x="0" y="0" font-family="'Liberation Sans', sans-serif" font-size="26.5" font-weight="normal" fill="#666" text-anchor="end" transform="translate(1517 4109.5) scale(0.84 1)">-0.5</text>
<line x1="1523.6" y1="4233.7" x2="1530" y2="4233.7" stroke="#444" stroke-width="2.5"/>
<text x="0" y="0" font-family="'Liberation Sans', sans-serif" font-size="26.5" font-weight="normal" fill="#666" text-anchor="end" transform="translate(1517 4243) scale(0.84 1)">-1.0</text>
<line x1="1669.4" y1="3593" x2="1669.4" y2="3891.2" stroke="#555" stroke-width="2.5"/>
<rect x="1581" y="3748.7" width="176.2" height="124.2" fill="#e3184b" stroke="#3a2a2a" stroke-width="2.5"/>
<line x1="1581" y1="3781.3" x2="1757.2" y2="3781.3" stroke="#3a2a30" stroke-width="8.5"/>
<circle cx="1607.7" cy="3592.2" r="4.7" fill="#000"/>
<circle cx="1649.7" cy="3721.1" r="4.7" fill="#000"/>
<circle cx="1648.3" cy="3749.3" r="4.7" fill="#000"/>
<circle cx="1730.1" cy="3750.2" r="4.7" fill="#000"/>
<circle cx="1757.7" cy="3749.3" r="4.7" fill="#000"/>
<circle cx="1596.1" cy="3813" r="4.7" fill="#000"/>
<circle cx="1640.1" cy="3813" r="4.7" fill="#000"/>
<circle cx="1721.9" cy="3867.8" r="4.7" fill="#000"/>
<circle cx="1739.4" cy="3891.2" r="4.7" fill="#000"/>
<circle cx="1745" cy="3887.5" r="4.7" fill="#000"/>
<circle cx="1751.5" cy="3886.4" r="4.7" fill="#000"/>
<polygon points="1668.3,3781 1676,3789.6 1668.3,3798.2 1660.6,3789.6" fill="#ffff00"/>
<line x1="1901" y1="4005.6" x2="1901" y2="4285" stroke="#555" stroke-width="2.5"/>
<rect x="1814" y="4031.7" width="175" height="194.4" fill="#3cb44b" stroke="#2a3a2a" stroke-width="2.5"/>
<line x1="1814" y1="4187.2" x2="1989" y2="4187.2" stroke="#2e3a2e" stroke-width="8.5"/>
<circle cx="1869.4" cy="4005.6" r="4.7" fill="#000"/>
<circle cx="1990.6" cy="4007.2" r="4.7" fill="#000"/>
<circle cx="1819.4" cy="4033.3" r="4.7" fill="#000"/>
<circle cx="1888.9" cy="4027.8" r="4.7" fill="#000"/>
<circle cx="1927.8" cy="4065" r="4.7" fill="#000"/>
<circle cx="1844.4" cy="4154.4" r="4.7" fill="#000"/>
<circle cx="1816.7" cy="4226.1" r="4.7" fill="#000"/>
<circle cx="1863.9" cy="4221.1" r="4.7" fill="#000"/>
<circle cx="1876.7" cy="4226.1" r="4.7" fill="#000"/>
<circle cx="1915.6" cy="4221.1" r="4.7" fill="#000"/>
<circle cx="1930" cy="4244.4" r="4.7" fill="#000"/>
<circle cx="1985" cy="4285.6" r="4.7" fill="#000"/>
<polygon points="1901,4134.7 1908.7,4143.3 1901,4151.9 1893.3,4143.3" fill="#ffff00"/>
<line x1="1668.3" y1="4319.5" x2="1668.3" y2="4328" stroke="#444" stroke-width="2.5"/>
<line x1="1901" y1="4319.5" x2="1901" y2="4328" stroke="#444" stroke-width="2.5"/>
<text x="1680.6" y="4340.5" font-family="'Liberation Serif', 'Times New Roman', serif" font-size="49.6" font-weight="bold" fill="#000" text-anchor="end" transform="rotate(-90 1680.6 4340.5)">CONTROL</text>
<text x="1925" y="4347" font-family="'Liberation Serif', 'Times New Roman', serif" font-size="50" font-weight="bold" fill="#000" text-anchor="end" transform="rotate(-90 1925 4347)">RA</text>
</svg></body></html>
